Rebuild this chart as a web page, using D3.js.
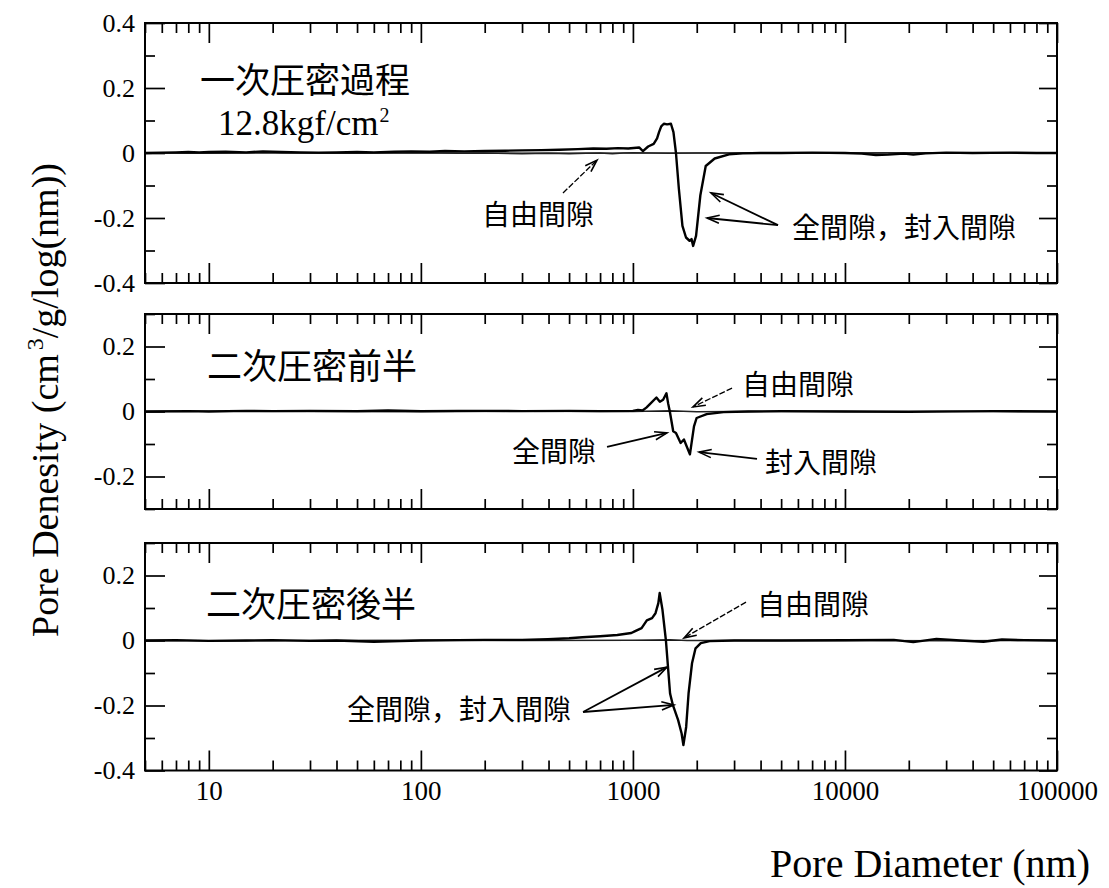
<!DOCTYPE html>
<html>
<head>
<meta charset="utf-8">
<script src="https://cdn.jsdelivr.net/npm/d3@7"></script>
<style>
  html, body { margin: 0; padding: 0; background: #fff; }
  svg { display: block; }
</style>
</head>
<body>
<svg id="chart" width="1109" height="888"></svg>
<script>
// ---- Pore-density curves for the three compaction stages ----
// Diameters in nm, densities in cm3/g/log(nm)

// 一次圧密過程 (12.8 kgf/cm2)
const p1Diameter = [5,6,7,8,9,10,12,15,18,22,27,33,40,50,60,75,90,110,130,160,200,250,300,370,450,550,650,750,850,950,1070,1115,1180,1253,1300,1328,1360,1399,1450,1511,1553,1596,1647,1712,1780,1849,1890,1923,1985,2080,2205,2430,2840,3300,4000,5000,7000,10000,12000,14000,16000,19000,21000,24000,30000,40000,60000,80000,100000];
const p1Total = [0,0.001,0.002,0.003,0.002,0.003,0.004,0.002,0.005,0.003,0.002,0.001,0.002,0.003,0.002,0.004,0.005,0.004,0.006,0.005,0.006,0.007,0.008,0.009,0.01,0.012,0.014,0.013,0.015,0.014,0.017,0.006,0.02,0.028,0.045,0.064,0.082,0.09,0.088,0.09,0.064,0,-0.11,-0.224,-0.26,-0.27,-0.265,-0.286,-0.255,-0.13,-0.04,-0.017,-0.004,-0.001,0,0,0.001,0,-0.002,-0.006,-0.005,-0.002,-0.005,-0.001,0.001,0,0.001,0,0];
const p1FreeDiameter = [5,10,20,40,70,100,150,200,300,400,500,600,700,800,900,1000,1200,1500,2000,3000,5000,10000,20000,50000,100000];
const p1Free = [0,-0.001,0.001,-0.001,0,0.001,-0.001,0,-0.002,-0.001,-0.002,-0.001,0,-0.002,0,0.001,0,-0.001,0,0,0,0,0.001,0,0];

// 二次圧密前半
const p2Diameter = [5,8,10,15,20,30,50,70,100,150,200,300,500,700,1000,1056,1110,1157,1199,1291,1340,1388,1439,1466,1493,1549,1596,1679,1740,1857,1941,1997,2228,2675,3500,5000,10000,20000,50000,100000];
const p2Total = [0,0.001,0,0.002,0.001,0.002,0.001,0.003,0.001,0.002,0.002,0.001,0.002,0.001,0.002,0.005,0.003,0.012,0.022,0.043,0.03,0.036,0.056,0.025,0,-0.061,-0.066,-0.097,-0.086,-0.132,-0.046,-0.02,-0.008,-0.002,0,0.001,0,-0.001,0.001,0];
const p2FreeDiameter = [5,10,30,100,300,1000,1500,2000,3000,10000,30000,100000];
const p2Free = [0,0.001,0,-0.001,0.001,0,0.002,-0.001,0,0,0.001,0];

// 二次圧密後半
const p3Diameter = [5,7,10,15,20,30,40,60,80,100,150,200,300,397,500,578,700,844,983,1019,1099,1163,1231,1278,1318,1337,1378,1431,1459,1497,1544,1634,1697,1730,1783,1830,1900,1974,2090,2300,3000,5000,10000,17000,21000,27000,35000,45000,55000,70000,100000];
const p3Total = [0,0.001,-0.001,0,0.001,-0.001,0,-0.004,-0.002,0,0.001,0.002,0.002,0.004,0.007,0.01,0.013,0.017,0.023,0.028,0.038,0.062,0.069,0.084,0.115,0.146,0.095,0,-0.07,-0.163,-0.199,-0.245,-0.286,-0.322,-0.266,-0.163,-0.07,-0.024,-0.008,-0.002,0,0,0.001,0.002,-0.005,0.005,0,-0.004,0.003,0.001,0];
const p3FreeDiameter = [5,10,30,100,300,1000,1500,1800,2500,10000,30000,100000];
const p3Free = [0,-0.001,0,0.001,0,0.001,0.002,0,0,0,-0.001,0];

// Axis ticks
const xTickLabels = [10, 100, 1000, 10000, 100000];
const p1YTicks = [0.4, 0.2, 0, -0.2, -0.4];
const p2YTicks = [0.2, 0, -0.2];
const p3YTicks = [0.2, 0, -0.2, -0.4];

// Panel titles and annotation labels
const panelTitles = ["一次圧密過程", "二次圧密前半", "二次圧密後半"];
const pressureLabel = "12.8kgf/cm";
const freeLabel = "自由間隙";
const totalLabel = "全間隙";
const enclosedLabel = "封入間隙";
const bothLabel = "全間隙，封入間隙";

// Arrow annotations in data space: [diameter, density]
const p1Arrows = [
  { from: [468, -0.123], to: [677, -0.022], dashed: true },
  { from: [4834, -0.222], to: [2335, -0.123] },
  { from: [4834, -0.222], to: [2236, -0.2] }
];
const p2Arrows = [
  { from: [2934, 0.072], to: [1920, 0.014], dashed: true },
  { from: [755, -0.109], to: [1448, -0.066] },
  { from: [3848, -0.146], to: [2050, -0.125] }
];
const p3Arrows = [
  { from: [3415, 0.118], to: [1742, 0.008], dashed: true },
  { from: [582, -0.22], to: [1447, -0.082] },
  { from: [582, -0.22], to: [1561, -0.198] }
];

// ---- Layout ----
const SERIF = "'Liberation Serif', 'Times New Roman', serif";
const CJK = "'Noto Sans CJK JP', 'Noto Sans CJK SC', sans-serif";
const PX_PER_UNIT = 325;
const left = 145, right = 1057;

const zip = (xs, ys) => xs.map((d, i) => ({ d, v: ys[i] }));

const panels = [
  { top: 23, domain: [-0.4, 0.4], ticks: p1YTicks,
    total: zip(p1Diameter, p1Total), free: zip(p1FreeDiameter, p1Free), arrows: p1Arrows,
    title: panelTitles[0], titleX: 200, titleY: 93,
    texts: [ { t: freeLabel, x: 482, y: 225 }, { t: bothLabel, x: 792, y: 238 } ] },
  { top: 314, domain: [-0.3, 0.3], ticks: p2YTicks,
    total: zip(p2Diameter, p2Total), free: zip(p2FreeDiameter, p2Free), arrows: p2Arrows,
    title: panelTitles[1], titleX: 207, titleY: 379,
    texts: [ { t: freeLabel, x: 742, y: 395 }, { t: totalLabel, x: 512, y: 462 }, { t: enclosedLabel, x: 765, y: 473 } ] },
  { top: 543, domain: [-0.4, 0.3], ticks: p3YTicks,
    total: zip(p3Diameter, p3Total), free: zip(p3FreeDiameter, p3Free), arrows: p3Arrows,
    title: panelTitles[2], titleX: 206, titleY: 617,
    texts: [ { t: freeLabel, x: 757, y: 615 }, { t: bothLabel, x: 347, y: 720 } ] }
];

const svg = d3.select("#chart");
const x = d3.scaleLog().domain([5, 100000]).range([left, right]);

const allX = x.ticks();
const isDecade = v => Math.abs(Math.log10(v) - Math.round(Math.log10(v))) < 1e-9;
const xMajor = allX.filter(isDecade);
const xMinor = allX.filter(v => !isDecade(v));

const fmtY = v => v === 0 ? "0" : d3.format(".1f")(v).replace("−", "-");

panels.forEach((p, i) => {
  const h = (p.domain[1] - p.domain[0]) * PX_PER_UNIT;
  const bottom = p.top + h;
  const y = d3.scaleLinear().domain(p.domain).range([bottom, p.top]);
  const g = svg.append("g");

  // minor y ticks at odd tenths
  const yMinor = d3.range(Math.round(p.domain[0] * 10), Math.round(p.domain[1] * 10) + 1)
    .map(k => k / 10).filter(v => Math.abs(Math.round(v * 10)) % 2 === 1);

  const styleAxis = sel => {
    sel.select(".domain").remove();
    sel.selectAll(".tick line").attr("stroke", "#000").attr("stroke-width", 1.7);
  };

  // left axis
  g.append("g").attr("transform", `translate(${left},0)`)
    .call(d3.axisLeft(y).tickValues(p.ticks).tickSize(-20).tickPadding(10).tickFormat(fmtY))
    .call(styleAxis)
    .call(s => s.selectAll("text").attr("font-family", SERIF).attr("font-size", 26).attr("fill", "#000"));
  g.append("g").attr("transform", `translate(${left},0)`)
    .call(d3.axisLeft(y).tickValues(yMinor).tickSize(-10).tickFormat(""))
    .call(styleAxis);

  // right axis
  g.append("g").attr("transform", `translate(${right},0)`)
    .call(d3.axisRight(y).tickValues(p.ticks.filter(v => v !== 0)).tickSize(-18).tickFormat(""))
    .call(styleAxis);
  g.append("g").attr("transform", `translate(${right},0)`)
    .call(d3.axisRight(y).tickValues(yMinor).tickSize(-10).tickFormat(""))
    .call(styleAxis);

  // top axis
  g.append("g").attr("transform", `translate(0,${p.top})`)
    .call(d3.axisTop(x).tickValues(xMajor).tickSize(-20).tickFormat(""))
    .call(styleAxis);
  g.append("g").attr("transform", `translate(0,${p.top})`)
    .call(d3.axisTop(x).tickValues(xMinor).tickSize(-10).tickFormat(""))
    .call(styleAxis);

  // bottom axis (labels only under the last panel)
  const last = i === panels.length - 1;
  g.append("g").attr("transform", `translate(0,${bottom})`)
    .call(d3.axisBottom(x).tickValues(xMajor).tickSize(-20).tickPadding(10)
      .tickFormat(v => last && xTickLabels.includes(v) ? d3.format("d")(v) : ""))
    .call(styleAxis)
    .call(s => s.selectAll("text").attr("font-family", SERIF).attr("font-size", 27).attr("fill", "#000"));
  g.append("g").attr("transform", `translate(0,${bottom})`)
    .call(d3.axisBottom(x).tickValues(xMinor).tickSize(-10).tickFormat(""))
    .call(styleAxis);

  // zero line
  g.append("line")
    .attr("x1", left).attr("x2", right)
    .attr("y1", y(0)).attr("y2", y(0))
    .attr("stroke", "#000").attr("stroke-width", 1.2);

  const line = d3.line().x(d => x(d.d)).y(d => y(d.v));

  // free-void curve (near zero)
  g.append("path").datum(p.free)
    .attr("d", line).attr("fill", "none")
    .attr("stroke", "#222").attr("stroke-width", 1.5);

  // total / enclosed void curve
  g.append("path").datum(p.total)
    .attr("d", line).attr("fill", "none")
    .attr("stroke", "#000").attr("stroke-width", 2.4).attr("stroke-linejoin", "round");

  // frame
  g.append("rect")
    .attr("x", left).attr("y", p.top)
    .attr("width", right - left).attr("height", h)
    .attr("fill", "none").attr("stroke", "#000").attr("stroke-width", 2);

  // panel title
  g.append("text")
    .attr("x", p.titleX).attr("y", p.titleY)
    .attr("font-family", CJK).attr("font-size", 35).attr("fill", "#000")
    .text(p.title);

  if (i === 0) {
    const t = g.append("text")
      .attr("x", 218).attr("y", 135)
      .attr("font-family", SERIF).attr("font-size", 35).attr("fill", "#000");
    t.append("tspan").text(pressureLabel);
    t.append("tspan").attr("dy", -13).attr("dx", 1).attr("font-size", 20).text("2");
  }

  // annotation labels
  p.texts.forEach(a => {
    g.append("text")
      .attr("x", a.x).attr("y", a.y)
      .attr("font-family", CJK).attr("font-size", 28).attr("fill", "#000")
      .text(a.t);
  });

  // arrows
  p.arrows.forEach(a => {
    const x1 = x(a.from[0]), y1 = y(a.from[1]);
    const x2 = x(a.to[0]), y2 = y(a.to[1]);
    const ang = Math.atan2(y2 - y1, x2 - x1);
    const L = 13, spread = 0.32;
    g.append("line")
      .attr("x1", x1).attr("y1", y1).attr("x2", x2).attr("y2", y2)
      .attr("stroke", "#000").attr("stroke-width", a.dashed ? 1.3 : 1.8)
      .attr("stroke-dasharray", a.dashed ? "6,2" : null);
    const head = d3.path();
    head.moveTo(x2 - L * Math.cos(ang - spread), y2 - L * Math.sin(ang - spread));
    head.lineTo(x2, y2);
    head.lineTo(x2 - L * Math.cos(ang + spread), y2 - L * Math.sin(ang + spread));
    g.append("path").attr("d", head.toString())
      .attr("fill", "none").attr("stroke", "#000").attr("stroke-width", 1.6);
  });
});

// axis titles
svg.append("text")
  .attr("x", 1090).attr("y", 877)
  .attr("text-anchor", "end")
  .attr("font-family", SERIF).attr("font-size", 40).attr("fill", "#000")
  .text("Pore Diameter (nm)");

const yt = svg.append("text")
  .attr("transform", "translate(58,400) rotate(-90)")
  .attr("text-anchor", "middle")
  .attr("font-family", SERIF).attr("font-size", 38).attr("fill", "#000");
yt.append("tspan").text("Pore Denesity (cm");
yt.append("tspan").attr("dy", -15).attr("dx", 4).attr("font-size", 24).text("3");
yt.append("tspan").attr("dy", 15).text("/g/log(nm))");
</script>
</body>
</html>
